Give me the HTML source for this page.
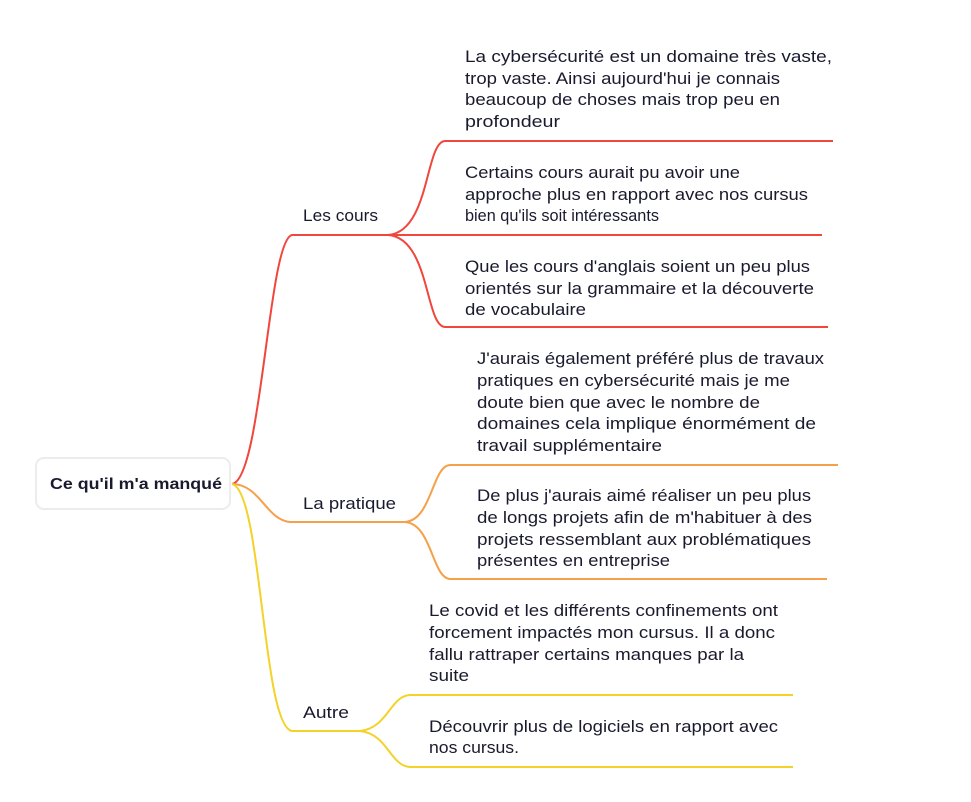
<!DOCTYPE html>
<html><head><meta charset="utf-8"><style>
html,body{margin:0;padding:0;background:#fff;}
svg{display:block;}
text{font-family:"Liberation Sans",sans-serif;font-size:16.5px;fill:#1a1a2e;}
</style></head><body>
<svg width="971" height="802" viewBox="0 0 971 802" xmlns="http://www.w3.org/2000/svg">
<rect x="36" y="458" width="194" height="51" rx="8" fill="#fff" stroke="#ececec" stroke-width="2"/>
<text x="50" y="489" style="font-weight:bold;font-size:15.5px" textLength="172" lengthAdjust="spacingAndGlyphs">Ce qu'il m'a manqué</text>
<g fill="none" stroke-width="2">
<path d="M232 484 C262 480 268 240 292 235 L400 235" stroke="#f0463c"/>
<path d="M388 235 C430 232 425 142 445 141 L833 141" stroke="#f0463c"/>
<path d="M400 235 L822 235" stroke="#f0463c"/>
<path d="M388 235 C430 238 425 326 445 327 L828 327" stroke="#f0463c"/>
<path d="M232 484 C260 484 266 520 290 522 L410 522" stroke="#f5a04a"/>
<path d="M405 522 C432 520 432 466 450 465 L838 465" stroke="#f5a04a"/>
<path d="M405 522 C432 524 432 578 450 579 L827 579" stroke="#f5a04a"/>
<path d="M232 484 C262 490 262 726 292 731 L365 731" stroke="#f4d228"/>
<path d="M360 731 C388 728 390 696 410 695 L793 695" stroke="#f4d228"/>
<path d="M360 731 C388 734 390 766 410 767 L793 767" stroke="#f4d228"/>
</g>
<g lengthAdjust="spacingAndGlyphs">
<text x="303" y="221" textLength="75" lengthAdjust="spacingAndGlyphs">Les cours</text>
<text x="303" y="509" textLength="93" lengthAdjust="spacingAndGlyphs">La pratique</text>
<text x="303" y="718" textLength="46" lengthAdjust="spacingAndGlyphs">Autre</text>

<text x="465" y="62" textLength="367" lengthAdjust="spacingAndGlyphs">La cybersécurité est un domaine très vaste,</text>
<text x="465" y="84" textLength="315" lengthAdjust="spacingAndGlyphs">trop vaste. Ainsi aujourd'hui je connais</text>
<text x="465" y="105" textLength="315" lengthAdjust="spacingAndGlyphs">beaucoup de choses mais trop peu en</text>
<text x="465" y="127" textLength="95" lengthAdjust="spacingAndGlyphs">profondeur</text>

<text x="465" y="178" textLength="275" lengthAdjust="spacingAndGlyphs">Certains cours aurait pu avoir une</text>
<text x="465" y="200" textLength="343" lengthAdjust="spacingAndGlyphs">approche plus en rapport avec nos cursus</text>
<text x="465" y="221" textLength="194" lengthAdjust="spacingAndGlyphs">bien qu'ils soit intéressants</text>

<text x="465" y="272" textLength="345" lengthAdjust="spacingAndGlyphs">Que les cours d'anglais soient un peu plus</text>
<text x="465" y="294" textLength="349" lengthAdjust="spacingAndGlyphs">orientés sur la grammaire et la découverte</text>
<text x="465" y="315" textLength="121" lengthAdjust="spacingAndGlyphs">de vocabulaire</text>

<text x="477" y="364" textLength="347" lengthAdjust="spacingAndGlyphs">J'aurais également préféré plus de travaux</text>
<text x="477" y="386" textLength="313" lengthAdjust="spacingAndGlyphs">pratiques en cybersécurité mais je me</text>
<text x="477" y="408" textLength="283" lengthAdjust="spacingAndGlyphs">doute bien que avec le nombre de</text>
<text x="477" y="429" textLength="339" lengthAdjust="spacingAndGlyphs">domaines cela implique énormément de</text>
<text x="477" y="451" textLength="185" lengthAdjust="spacingAndGlyphs">travail supplémentaire</text>

<text x="477" y="501" textLength="334" lengthAdjust="spacingAndGlyphs">De plus j'aurais aimé réaliser un peu plus</text>
<text x="477" y="523" textLength="335" lengthAdjust="spacingAndGlyphs">de longs projets afin de m'habituer à des</text>
<text x="477" y="545" textLength="334" lengthAdjust="spacingAndGlyphs">projets ressemblant aux problématiques</text>
<text x="477" y="566" textLength="193" lengthAdjust="spacingAndGlyphs">présentes en entreprise</text>

<text x="429" y="616" textLength="349" lengthAdjust="spacingAndGlyphs">Le covid et les différents confinements ont</text>
<text x="429" y="638" textLength="346" lengthAdjust="spacingAndGlyphs">forcement impactés mon cursus. Il a donc</text>
<text x="429" y="660" textLength="315" lengthAdjust="spacingAndGlyphs">fallu rattraper certains manques par la</text>
<text x="429" y="681" textLength="40" lengthAdjust="spacingAndGlyphs">suite</text>

<text x="429" y="732" textLength="349" lengthAdjust="spacingAndGlyphs">Découvrir plus de logiciels en rapport avec</text>
<text x="429" y="753" textLength="90" lengthAdjust="spacingAndGlyphs">nos cursus.</text>
</g>
</svg>
</body></html>
